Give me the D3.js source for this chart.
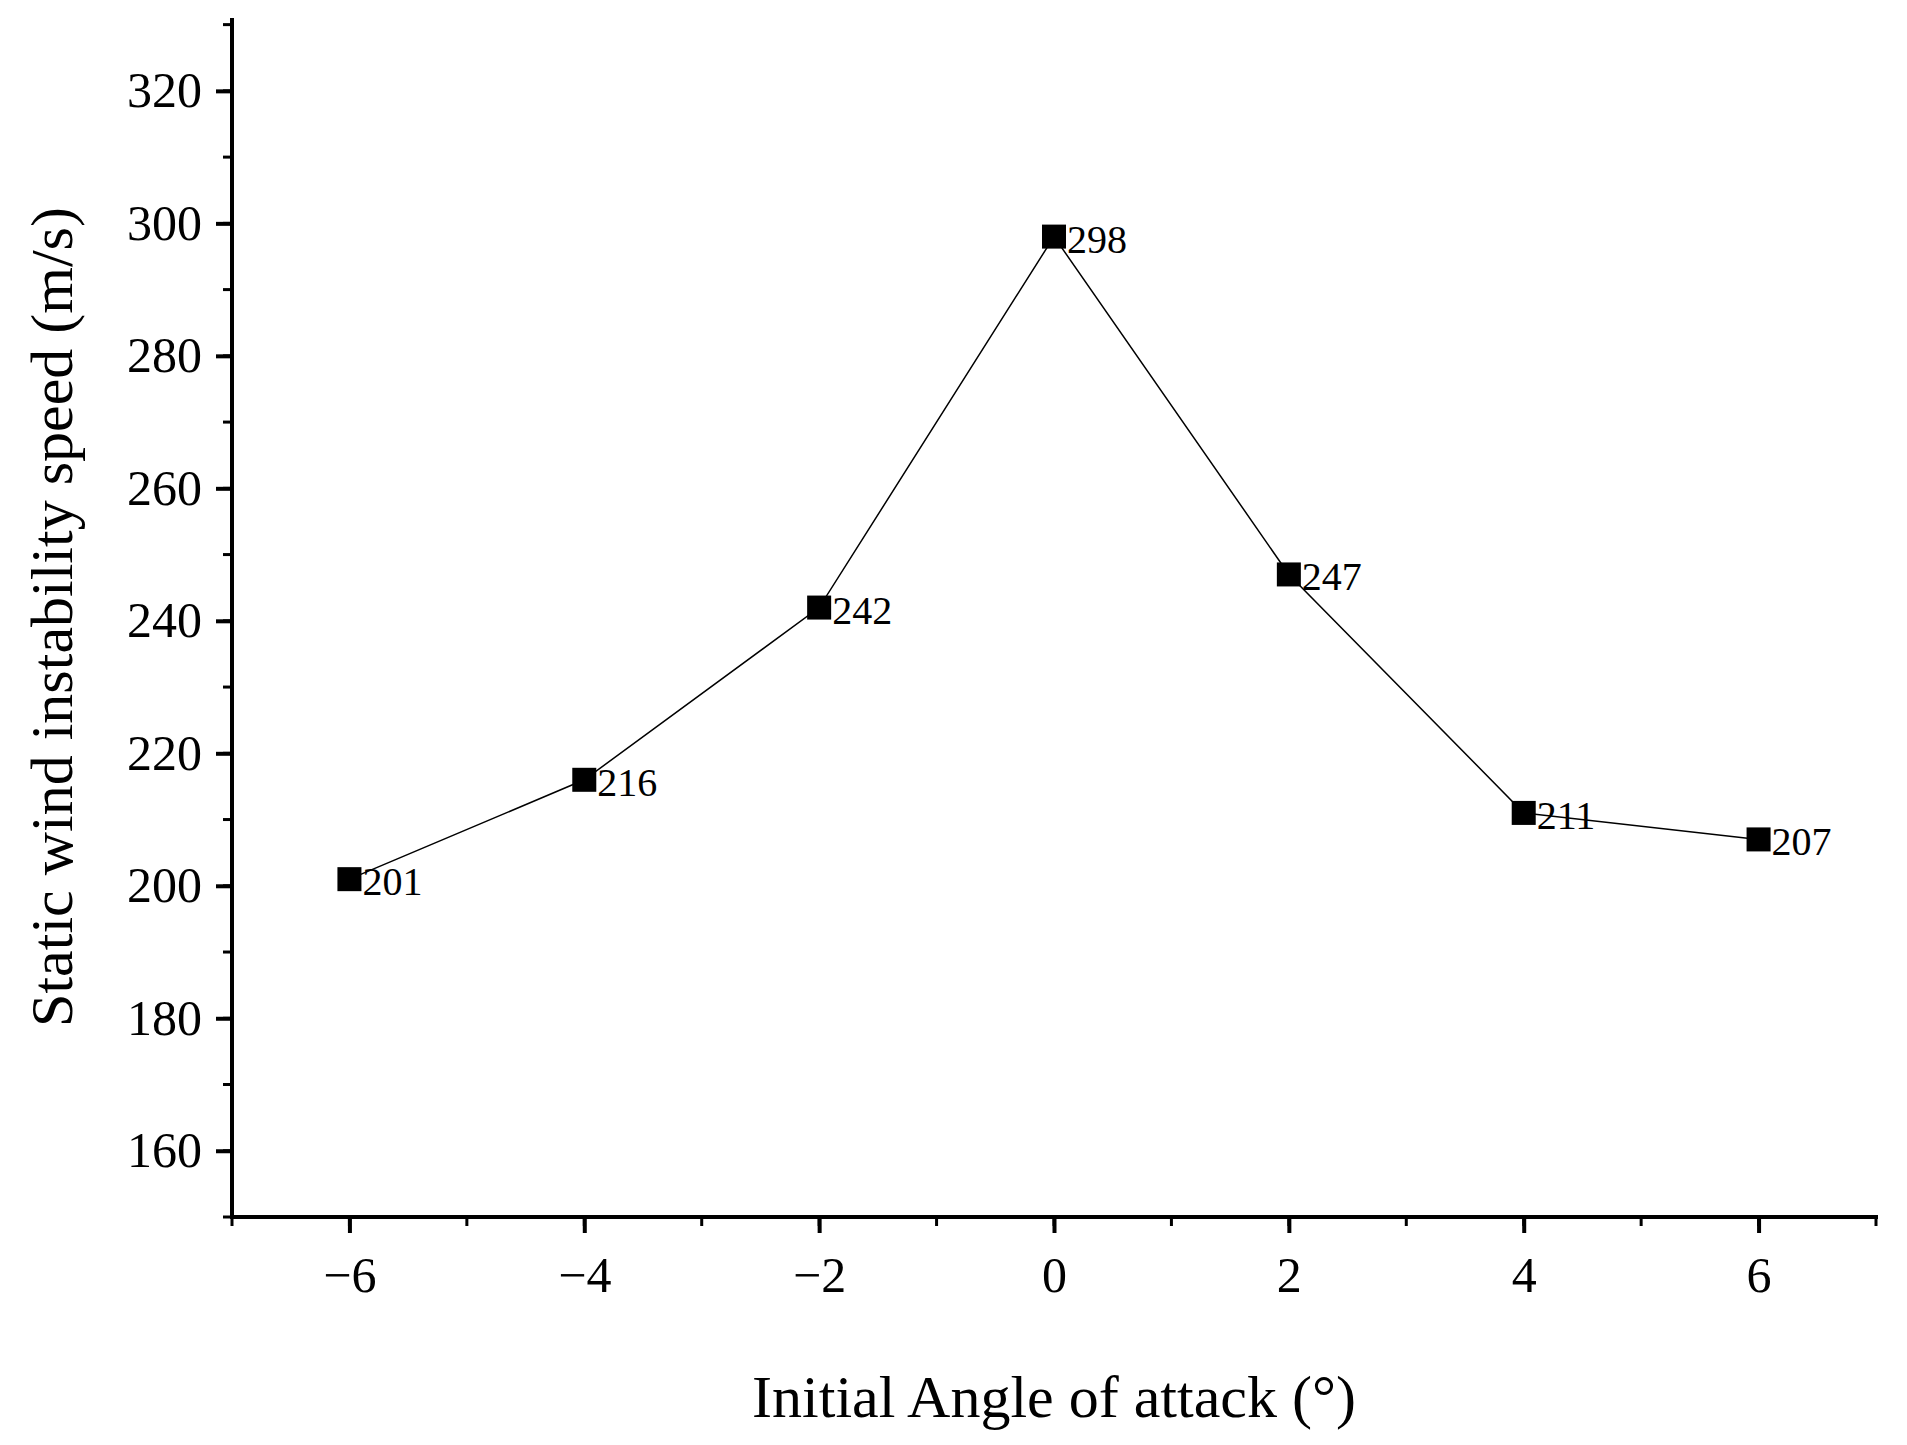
<!DOCTYPE html><html><head><meta charset="utf-8"><script src="https://cdn.jsdelivr.net/npm/d3@7"></script>
<style>body{margin:0;background:#fff}</style></head><body><svg id="c" width="1907" height="1445"></svg><script>
const angles=[-6,-4,-2,0,2,4,6];
const speeds=[201,216,242,298,247,211,207];
const xTicks=[-6,-4,-2,0,2,4,6];
const yTicks=[160,180,200,220,240,260,280,300,320];
const svg=d3.select("#c"),F="Liberation Serif, Times New Roman, serif";
const L=232,R=1876,T=18,B=1217;
const x=d3.scaleLinear().domain([-7,7]).range([L,R]);
const y=d3.scaleLinear().domain([150,331]).range([B,T]);
const g=svg.append("g");
// minor ticks
g.selectAll(".mx").data(d3.range(-7,8)).join("line").attr("x1",d=>x(d)).attr("x2",d=>x(d)).attr("y1",B).attr("y2",B+9).attr("stroke","#000").attr("stroke-width",3);
g.selectAll(".my").data(d3.range(150,331,10)).join("line").attr("y1",d=>y(d)).attr("y2",d=>y(d)).attr("x1",L).attr("x2",L-9).attr("stroke","#000").attr("stroke-width",3);
const xa=g.append("g").attr("transform",`translate(0,${B})`).call(d3.axisBottom(x).tickValues(xTicks).tickSize(16).tickPadding(14).tickFormat(d=>d<0?"\u2212"+(-d):d));
const ya=g.append("g").attr("transform",`translate(${L},0)`).call(d3.axisLeft(y).tickValues(yTicks).tickSize(16).tickPadding(14));
[xa,ya].forEach(a=>{a.select(".domain").remove();a.selectAll("line").attr("stroke-width",4);a.selectAll("text").attr("font-family",F).attr("font-size",50).attr("fill","#000");});
xa.selectAll("text").attr("dy","0.9em");
g.append("line").attr("x1",L-2).attr("x2",R+2).attr("y1",B).attr("y2",B).attr("stroke","#000").attr("stroke-width",4);
g.append("line").attr("x1",L).attr("x2",L).attr("y1",T).attr("y2",B+2).attr("stroke","#000").attr("stroke-width",4);
svg.append("path").datum(angles.map((a,i)=>[a,speeds[i]])).attr("d",d3.line().x(d=>x(d[0])).y(d=>y(d[1]))).attr("fill","none").attr("stroke","#000").attr("stroke-width",1.5);
const s=24;
svg.selectAll(".m").data(angles).join("rect").attr("x",(d)=>x(d)-s/2).attr("y",(d,i)=>y(speeds[i])-s/2).attr("width",s).attr("height",s).attr("fill","#000");
svg.selectAll(".l").data(angles).join("text").attr("x",d=>x(d)+13).attr("y",(d,i)=>y(speeds[i])+16).attr("font-family",F).attr("font-size",40).text((d,i)=>speeds[i]);
svg.append("text").attr("x",(L+R)/2).attr("y",1417).attr("text-anchor","middle").attr("font-family",F).attr("font-size",60).text("Initial Angle of attack (°)");
svg.append("text").attr("transform","translate(72,617) rotate(-90)").attr("text-anchor","middle").attr("font-family",F).attr("font-size",60).text("Static wind instability speed (m/s)");
</script></body></html>
